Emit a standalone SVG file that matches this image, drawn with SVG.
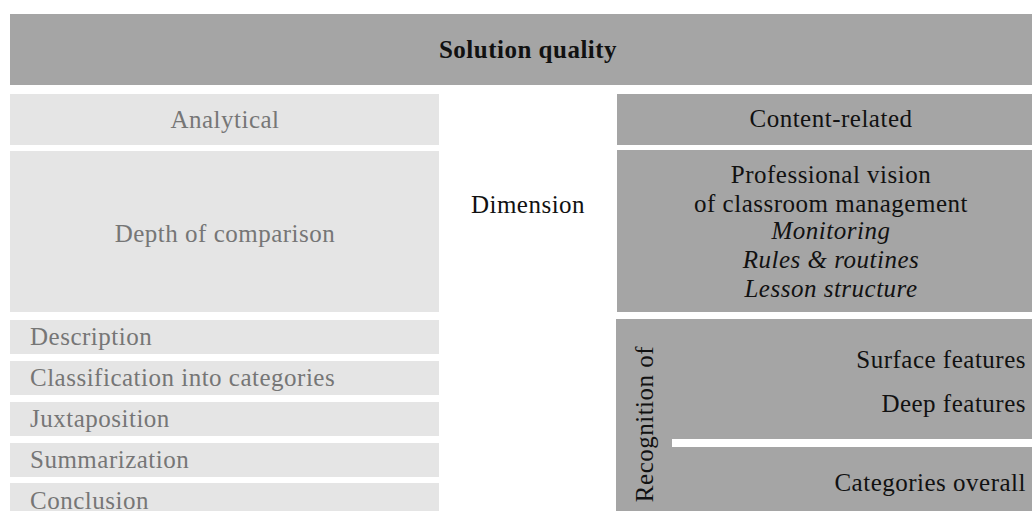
<svg xmlns="http://www.w3.org/2000/svg" width="1032" height="511" viewBox="0 0 1032 511">
  <style>
    .dark { fill: #a5a5a5; }
    .light { fill: #e5e5e5; }
    text { font-family: "Liberation Serif", "Times New Roman", serif; font-size: 25px; letter-spacing: 0.5px; }
    .blk { fill: #111111; }
    .gry { fill: #767676; }
    .mid { text-anchor: middle; }
    .end { text-anchor: end; }
    .it { font-style: italic; }
    .b { font-weight: bold; }
  </style>
  <rect width="1032" height="511" fill="#ffffff"/>

  <g id="header">
    <rect class="dark" x="10" y="14" width="1022" height="71"/>
    <text class="blk mid b" x="528" y="58">Solution quality</text>
  </g>

  <g id="analytical">
    <rect class="light" x="10" y="94" width="429" height="51"/>
    <text class="gry mid" x="225" y="128">Analytical</text>
  </g>

  <g id="depth">
    <rect class="light" x="10" y="151" width="429" height="161"/>
    <text class="gry mid" x="225" y="242">Depth of comparison</text>
  </g>

  <g id="description">
    <rect class="light" x="10" y="320" width="429" height="34"/>
    <text class="gry" x="30" y="345">Description</text>
  </g>
  <g id="classification">
    <rect class="light" x="10" y="361" width="429" height="34"/>
    <text class="gry" x="30" y="386">Classification into categories</text>
  </g>
  <g id="juxtaposition">
    <rect class="light" x="10" y="402" width="429" height="34"/>
    <text class="gry" x="30" y="427">Juxtaposition</text>
  </g>
  <g id="summarization">
    <rect class="light" x="10" y="443" width="429" height="34"/>
    <text class="gry" x="30" y="468">Summarization</text>
  </g>
  <g id="conclusion">
    <rect class="light" x="10" y="483" width="429" height="28"/>
    <text class="gry" x="30" y="509">Conclusion</text>
  </g>

  <g id="dimension">
    <text class="blk mid" x="528" y="213">Dimension</text>
  </g>

  <g id="content-related">
    <rect class="dark" x="617" y="94" width="415" height="51"/>
    <text class="blk mid" x="831" y="127">Content-related</text>
  </g>

  <g id="professional-vision">
    <rect class="dark" x="617" y="150" width="415" height="162"/>
    <text class="blk mid" x="831" y="183">Professional vision</text>
    <text class="blk mid" x="831" y="212">of classroom management</text>
    <text class="blk mid it" x="831" y="239">Monitoring</text>
    <text class="blk mid it" x="831" y="268">Rules &amp; routines</text>
    <text class="blk mid it" x="831" y="297">Lesson structure</text>
  </g>

  <g id="recognition">
    <rect class="dark" x="616" y="319" width="416" height="192"/>
    <rect fill="#ffffff" x="672" y="439" width="360" height="8"/>
    <text class="blk mid" transform="translate(653 424) rotate(-90)" x="0" y="0">Recognition of</text>
    <text class="blk end" x="1026" y="368">Surface features</text>
    <text class="blk end" x="1026" y="412">Deep features</text>
    <text class="blk end" x="1026" y="491">Categories overall</text>
  </g>

  <g id="connectors"></g>
</svg>
